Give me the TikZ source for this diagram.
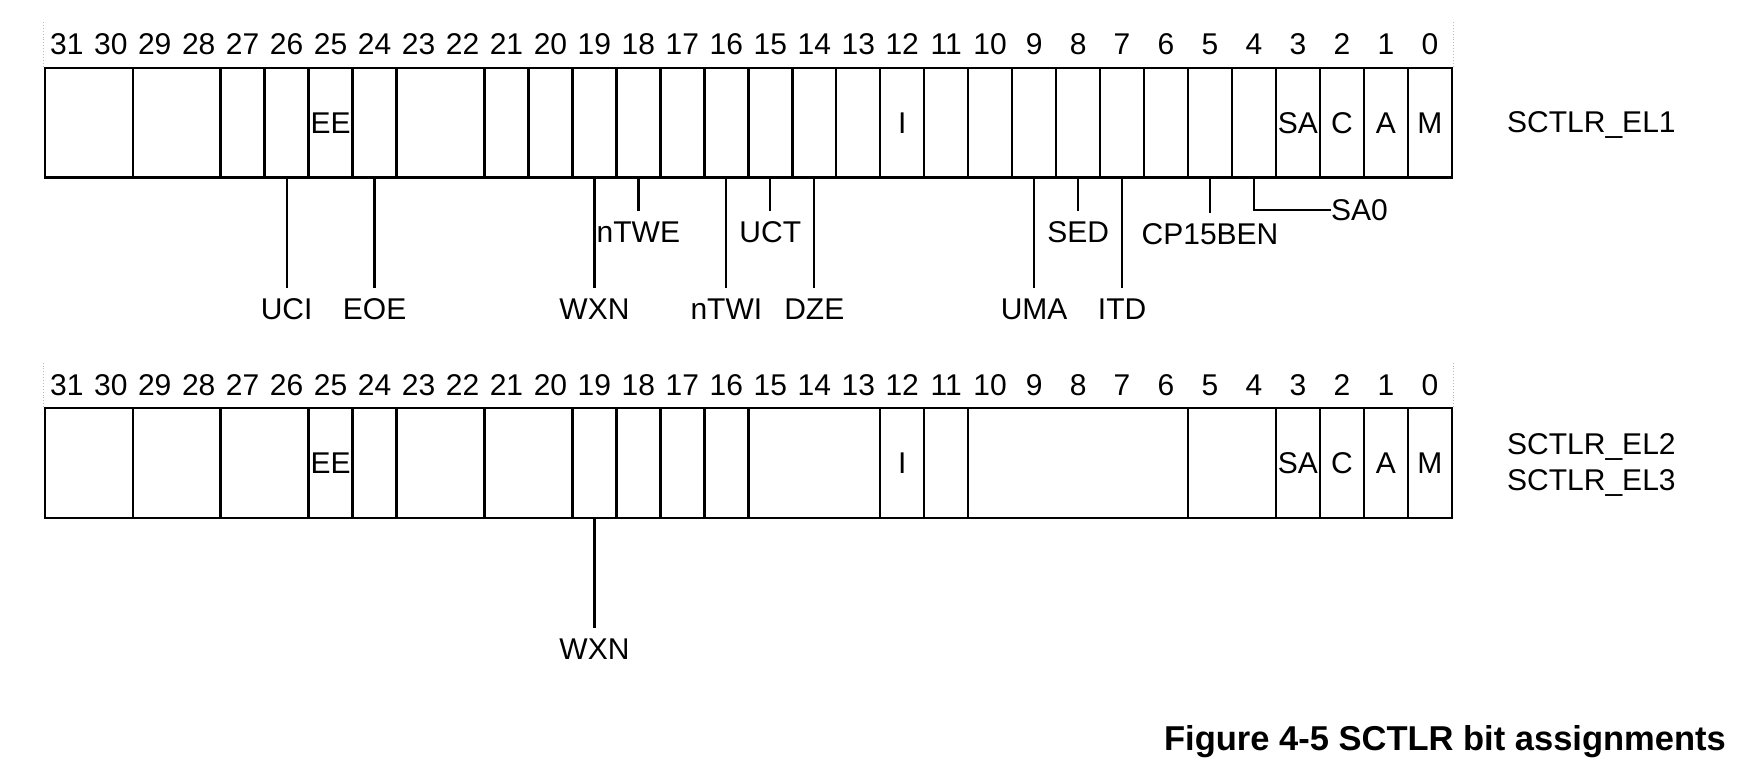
\documentclass[tikz,border=0pt]{standalone}
\usepackage{fontspec}
\setmainfont{Liberation Sans}
\usetikzlibrary{positioning}
\newcommand{\bitfont}{\fontsize{30}{36}\selectfont}
\newcommand{\capfont}{\bfseries\fontsize{34.5}{40}\selectfont}
\begin{document}
\begin{tikzpicture}[x=1pt,y=-1pt]
        \tikzset{field/.style = {draw, line width=2.4pt, inner sep=0pt, minimum height=109.6pt, font=\bitfont, text height=21.5pt, text depth=0pt}}
        \tikzset{bitnum/.style = {inner sep=0pt, font=\bitfont, text height=21.5pt, text depth=0pt}}
        \tikzset{flabel/.style = {inner xsep=0pt, inner ysep=10pt, font=\bitfont, text height=21.5pt, text depth=0pt}}
        \tikzset{regname/.style = {anchor=west, inner sep=0pt, font=\bitfont, text height=21.5pt, text depth=0pt}}
        \tikzset{wire/.style = {line width=2.2pt}}
        \tikzset{guide/.style = {gray!55, dotted, line width=0.9pt}}
        \useasboundingbox (0,0) rectangle (1752,776);
        % SCTLR_EL1 bit numbers
        \foreach \b in {0,...,31} {
          \pgfmathsetmacro\fx{44.8+(31.5-\b)*43.97}
          \node[bitnum] (tn\b) at (\fx,44.2) {\b};
        }
        % SCTLR_EL1 fields
        \foreach \hi/\lo/\txt in {31/30/,29/28/,27/27/,26/26/,25/25/EE,24/24/,23/22/,21/21/,20/20/,
            19/19/,18/18/,17/17/,16/16/,15/15/,14/14/,13/13/,12/12/I,11/11/,10/10/,9/9/,8/8/,7/7/,
            6/6/,5/5/,4/4/,3/3/SA,2/2/C,1/1/A,0/0/M} {
          \pgfmathsetmacro\fx{44.8+(31.5-(\hi+\lo)/2)*43.97}
          \pgfmathsetmacro\fw{(\hi-\lo+1)*43.97}
          \node[field, minimum width=\fw pt] (t\lo) at (\fx,122.5) {\txt};
        }
        \draw[guide] (t30.north west) -- ++(0,-44);
        \draw[guide] (t0.north east) -- ++(0,-44);
        \node[regname] (nEL1) at (1507,122) {SCTLR\_EL1};
        % SCTLR_EL1 field names below
        \node[flabel, below=109.7pt of t26] (lUCI) {UCI};
        \node[flabel, below=109.7pt of t24] (lEOE) {EOE};
        \node[flabel, below=109.7pt of t19] (lWXN) {WXN};
        \node[flabel, below=32.7pt of t18] (lnTWE) {nTWE};
        \node[flabel, below=109.7pt of t16] (lnTWI) {nTWI};
        \node[flabel, below=32.7pt of t15] (lUCT) {UCT};
        \node[flabel, below=109.7pt of t14] (lDZE) {DZE};
        \node[flabel, below=109.7pt of t9] (lUMA) {UMA};
        \node[flabel, below=32.7pt of t8] (lSED) {SED};
        \node[flabel, below=109.7pt of t7] (lITD) {ITD};
        \node[flabel, below=34pt of t5] (lCP15BEN) {CP15BEN};
        \node[flabel, inner ysep=0pt, anchor=west] (lSA0) at (1331,210) {SA0};
        \foreach \f/\l in {26/UCI,24/EOE,19/WXN,18/nTWE,16/nTWI,15/UCT,14/DZE,9/UMA,8/SED,7/ITD,5/CP15BEN}
          \draw[wire] (t\f) -- (l\l);
        \draw[wire] (t4) |- (lSA0);
        % SCTLR_EL2 and SCTLR_EL3 bit numbers
        \foreach \b in {0,...,31} {
          \pgfmathsetmacro\fx{44.8+(31.5-\b)*43.97}
          \node[bitnum] (bn\b) at (\fx,384.8) {\b};
        }
        % SCTLR_EL2 and SCTLR_EL3 fields
        \foreach \hi/\lo/\txt in {31/30/,29/28/,27/26/,25/25/EE,24/24/,23/22/,21/20/,19/19/,18/18/,
            17/17/,16/16/,15/13/,12/12/I,11/11/,10/6/,5/4/,3/3/SA,2/2/C,1/1/A,0/0/M} {
          \pgfmathsetmacro\fx{44.8+(31.5-(\hi+\lo)/2)*43.97}
          \pgfmathsetmacro\fw{(\hi-\lo+1)*43.97}
          \node[field, minimum width=\fw pt] (b\lo) at (\fx,463) {\txt};
        }
        \draw[guide] (b30.north west) -- ++(0,-44);
        \draw[guide] (b0.north east) -- ++(0,-44);
        \node[regname] (nEL2) at (1507,443.5) {SCTLR\_EL2};
        \node[regname] (nEL3) at (1507,480) {SCTLR\_EL3};
        \node[flabel, below=109pt of b19] (lbWXN) {WXN};
        \draw[wire] (b19) -- (lbWXN);
        % caption
        \node[font=\capfont, inner sep=0pt, anchor=base east] (cap) at (1726,750) {Figure 4-5 SCTLR bit assignments};
\end{tikzpicture}
\end{document}
